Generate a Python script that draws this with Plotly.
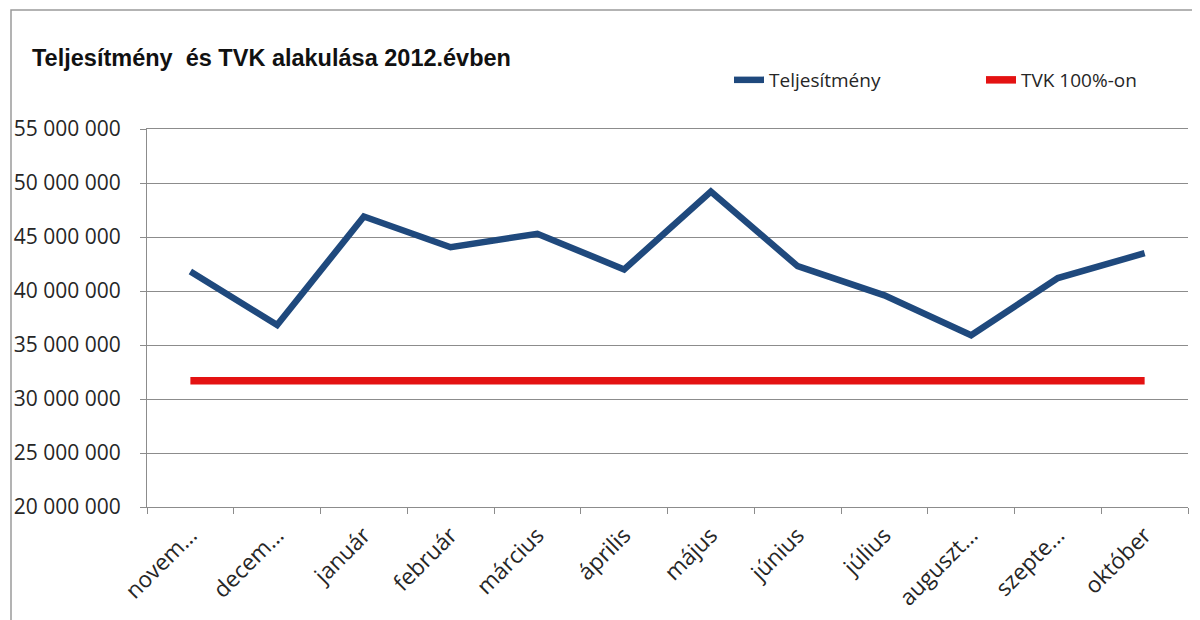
import plotly.graph_objects as go

# ---- data ----
months = ["november", "december", "január", "február", "március", "április",
          "május", "június", "július", "augusztus", "szeptember", "október"]
month_labels = ["novem…", "decem…", "január", "február", "március", "április",
                "május", "június", "július", "auguszt…", "szepte…", "október"]
teljesitmeny = [41_800_000, 36_850_000, 46_900_000, 44_050_000, 45_300_000, 42_000_000,
                49_200_000, 42_300_000, 39_600_000, 35_900_000, 41_200_000, 43_500_000]
tvk_100 = [31_700_000] * 12
y_ticks = [20_000_000, 25_000_000, 30_000_000, 35_000_000, 40_000_000,
           45_000_000, 50_000_000, 55_000_000]

BLUE = "#1F497D"
RED = "#E41212"
GRID = "#8C8C8C"
TXT = "#262626"
CAL = "Open Sans, Lato, sans-serif"

fig = go.Figure()
fig.add_trace(go.Scatter(x=months, y=teljesitmeny, mode="lines", name="Teljesítmény",
                         line=dict(color=BLUE, width=6.5), legend="legend"))
fig.add_trace(go.Scatter(x=months, y=tvk_100, mode="lines", name="TVK 100%-on",
                         line=dict(color=RED, width=7.5), legend="legend2"))

# page offset of the figure (default body margin)
OX, OY = 8, 8
W, H = 1200, 620
L = 147 - OX
T = 129 - OY
R = W - (1188 - OX)
B = H - (507 - OY)
pw, ph = W - L - R, H - T - B

def px_x(s):
    return (s - OX - L) / pw

def px_y(s):
    return (H - B - (s - OY)) / ph

leg_common = dict(orientation="h", xanchor="left", yanchor="middle",
                  font=dict(family=CAL, size=19, color=TXT),
                  bgcolor="rgba(0,0,0,0)")

fig.update_layout(
    width=W, height=H,
    margin=dict(l=L, r=R, t=T, b=B, autoexpand=False),
    paper_bgcolor="white", plot_bgcolor="white",
    separators=", ",
    title=dict(text="<b>Teljesítmény  és TVK alakulása 2012.évben</b>",
               x=24 / W, xanchor="left", xref="container",
               y=1 - 50 / H, yanchor="middle", yref="container",
               font=dict(family="Liberation Sans Narrow, Arial Narrow, Liberation Sans, Arial",
                         size=23.5, color="#111111")),
    legend=dict(x=px_x(729), y=px_y(80), **leg_common),
    legend2=dict(x=px_x(981), y=px_y(80), **leg_common),
    showlegend=True,
    shapes=[dict(type="rect", xref="paper", yref="paper",
                 x0=px_x(11), x1=px_x(1240), y0=px_y(650), y1=px_y(10),
                 line=dict(color="#9A9A9A", width=1.5), fillcolor="rgba(0,0,0,0)",
                 layer="below")],
)

fig.update_xaxes(
    type="category", categoryorder="array", categoryarray=months,
    tickmode="array", tickvals=months, ticktext=month_labels,
    tickson="boundaries", ticks="outside", ticklen=6, tickcolor=GRID,
    tickangle=-45, tickfont=dict(family=CAL, size=22.5, color=TXT),
    showline=True, linecolor=GRID, linewidth=1.2, mirror=True,
    showgrid=False, range=[-0.5, 11.5], ticklabelstandoff=5, automargin=False,
)
fig.update_yaxes(
    range=[20_000_000, 55_000_000], tickmode="array", tickvals=y_ticks,
    tickformat=",d", ticks="outside", ticklen=6, tickcolor=GRID,
    tickfont=dict(family=CAL, size=21, color=TXT),
    showline=True, linecolor=GRID, linewidth=1.2,
    showgrid=True, gridcolor=GRID, gridwidth=1.2,
    zeroline=False, ticklabelstandoff=15, automargin=False,
)

fig.write_html("out.html")
